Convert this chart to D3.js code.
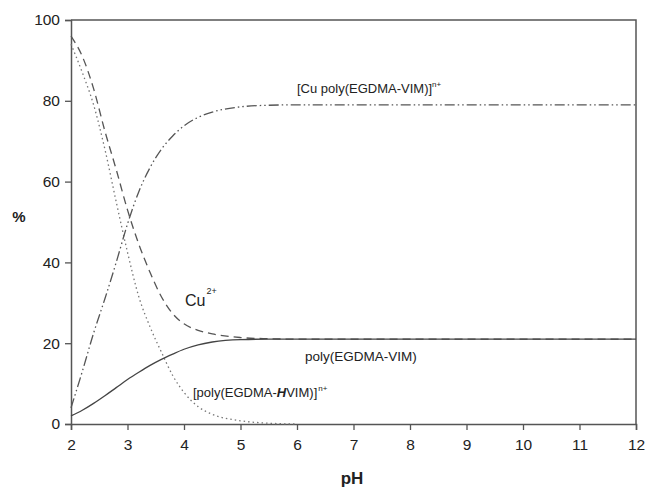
<!DOCTYPE html>
<html>
<head>
<meta charset="utf-8">
<script src="https://cdn.jsdelivr.net/npm/d3@7"></script>
<style>
  body { margin: 0; background: #fff; }
  svg { display: block; font-family: "Liberation Sans", Arial, sans-serif; }
</style>
</head>
<body>
<svg id="chart" width="647" height="490"></svg>
<script>
// ---- data ----
const pH = [2, 2.2, 2.4, 2.6, 2.8, 3.0, 3.2, 3.4, 3.6, 3.8, 4.0, 4.25, 4.5, 5.0, 5.5, 6, 7, 8, 9, 10, 11, 12];
const cu = [96, 91, 83, 72.5, 63, 53, 44.5, 37.5, 31.5, 27.3, 24.8, 23.2, 22.3, 21.4, 21.1, 21, 21, 21, 21, 21, 21, 21];
const complexCu = [4, 13, 22.5, 31, 40, 49.5, 57.5, 63.5, 68, 71.3, 73.8, 75.9, 77.2, 78.5, 78.9, 79, 79, 79, 79, 79, 79, 79];
const ligandH = [94, 87, 79, 68, 55, 42.5, 31.5, 24, 17.8, 12, 7.8, 4.3, 2.4, 0.8, 0.2, 0, null, null, null, null, null, null];
const ligand = [2, 3.4, 5.1, 7, 9, 11, 12.8, 14.5, 16, 17.3, 18.5, 19.6, 20.3, 20.9, 21, 21, 21, 21, 21, 21, 21, 21];
const xTicks = [2, 3, 4, 5, 6, 7, 8, 9, 10, 11, 12];
const yTicks = [0, 20, 40, 60, 80, 100];

// ---- layout ----
const W = 647, H = 490;
const m = { left: 71, top: 20, right: 11, bottom: 66 };
const svg = d3.select("#chart");
const x = d3.scaleLinear().domain([2, 12]).range([m.left, W - m.right]);
const y = d3.scaleLinear().domain([0, 100]).range([H - m.bottom, m.top]);
const axisColor = "#555";
const textColor = "#222";

// frame (top and right)
svg.append("path")
  .attr("d", `M${x(2)},${y(100)}H${x(12)}V${y(0)}`)
  .attr("fill", "none").attr("stroke", axisColor).attr("stroke-width", 1.5);

// axes
const gx = svg.append("g").attr("transform", `translate(0,${y(0)})`)
  .call(d3.axisBottom(x).tickValues(xTicks).tickSize(6).tickPadding(9).tickFormat(d3.format("d")));
const gy = svg.append("g").attr("transform", `translate(${x(2)},0)`)
  .call(d3.axisLeft(y).tickValues(yTicks).tickSize(6).tickPadding(5).tickFormat(d3.format("d")));
[gx, gy].forEach(g => {
  g.select(".domain").attr("stroke", axisColor).attr("stroke-width", 1.5);
  g.selectAll(".tick line").attr("stroke", axisColor).attr("stroke-width", 1.3);
  g.selectAll(".tick text").attr("fill", textColor)
    .style("font-size", "15.5px").style("font-family", "'Liberation Sans', Arial, sans-serif");
});

// axis titles
svg.append("text").attr("x", 352).attr("y", 484).attr("text-anchor", "middle")
  .attr("fill", textColor).style("font-size", "17px").style("font-weight", "bold").text("pH");
svg.append("text").attr("x", 19).attr("y", 222).attr("text-anchor", "middle")
  .attr("fill", textColor).style("font-size", "15px").style("font-weight", "bold").text("%");

// curves
const series = [
  { vals: cu, dash: "8,5", color: "#555", w: 1.3 },
  { vals: ligandH, dash: "1.5,3", color: "#777", w: 1.3 },
  { vals: complexCu, dash: "10,3,1.5,3,1.5,3", color: "#555", w: 1.3 },
  { vals: ligand, dash: null, color: "#444", w: 1.3 }
];
const line = d3.line()
  .defined(d => d[1] !== null)
  .x(d => x(d[0])).y(d => y(d[1]))
  .curve(d3.curveMonotoneX);
series.forEach(s => {
  svg.append("path")
    .datum(pH.map((p, i) => [p, s.vals[i]]))
    .attr("d", line)
    .attr("fill", "none")
    .attr("stroke", s.color)
    .attr("stroke-width", s.w)
    .attr("stroke-dasharray", s.dash);
});

// labels
const lab = svg.append("g").attr("fill", textColor).style("font-size", "13px");
const t1 = lab.append("text").attr("x", 297).attr("y", 93);
t1.append("tspan").text("[Cu poly(EGDMA-VIM)]");
t1.append("tspan").attr("dy", -6).style("font-size", "8px").text("n+");

const t2 = lab.append("text").attr("x", 185).attr("y", 306).style("font-size", "16px");
t2.append("tspan").text("Cu");
t2.append("tspan").attr("dx", 1).attr("dy", -12).style("font-size", "9px").text("2+");

lab.append("text").attr("x", 305).attr("y", 361).style("font-size", "13.5px").text("poly(EGDMA-VIM)");

const t4 = lab.append("text").attr("x", 193).attr("y", 397).style("font-size", "13px");
t4.append("tspan").text("[poly(EGDMA-");
t4.append("tspan").style("font-weight", "bold").style("font-style", "italic").text("H");
t4.append("tspan").text("VIM)]");
t4.append("tspan").attr("dx", 1).attr("dy", -6).style("font-size", "8px").text("n+");
</script>
</body>
</html>
